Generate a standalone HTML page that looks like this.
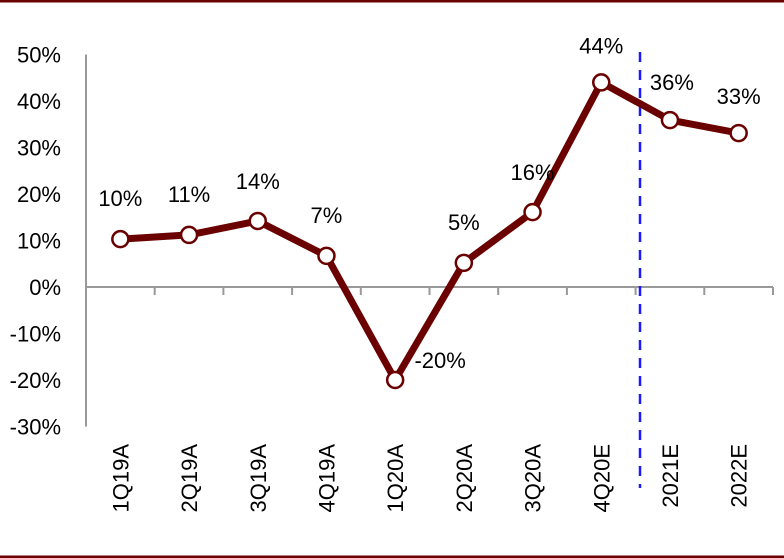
<!DOCTYPE html>
<html><head><meta charset="utf-8"><style>
html,body{margin:0;padding:0;background:#fff}
svg{display:block}
text{font-family:"Liberation Sans",sans-serif;font-size:22px;fill:#000}
</style></head><body>
<svg width="784" height="558">
<rect x="0" y="0" width="784" height="2.5" fill="#6b0000"/>
<rect x="0" y="555.5" width="784" height="2.5" fill="#6b0000"/>
<g id="axes"></g>
<g id="marks"></g>
</svg>
<script>
const categories=["1Q19A","2Q19A","3Q19A","4Q19A","1Q20A","2Q20A","3Q20A","4Q20E","2021E","2022E"];
const values=[10.3,11.2,14.2,6.7,-20,5.2,16.1,44,35.9,33.1];
const valueLabels=["10%","11%","14%","7%","-20%","5%","16%","44%","36%","33%"];
const yTicks=[50,40,30,20,10,0,-10,-20,-30];
const NS="http://www.w3.org/2000/svg";
const x0=86,x1=773,n=categories.length,step=(x1-x0)/n;
const xc=i=>x0+step*(i+0.5);
const y=v=>287-v*4.65;
const axes=document.getElementById('axes'),marks=document.getElementById('marks');
function mk(tag,attrs,parent,txt){const e=document.createElementNS(NS,tag);for(const k in attrs)e.setAttribute(k,attrs[k]);if(txt!==undefined)e.textContent=txt;parent.appendChild(e);return e;}
let e=mk('line',{x1:x0,x2:x0,y1:y(50),y2:y(-30),stroke:'#999','stroke-width':2},axes);


e=mk('line',{x1:x0,x2:x1,y1:y(0),y2:y(0),stroke:'#999','stroke-width':2},axes);


yTicks.forEach(t=>{
 const l=mk('text',{x:61,y:y(t)+8,'text-anchor':'end'},axes,t+'%');
 
 
});
for(let i=1;i<=n;i++){
 const tk=mk('line',{x1:x0+step*i,x2:x0+step*i,y1:y(0),y2:y(0)+8,stroke:'#999','stroke-width':2},axes);
 
 
}
categories.forEach((c,i)=>{
 const l=mk('text',{x:0,y:0,'text-anchor':'end',transform:`translate(${xc(i)+8},444) rotate(-90)`},axes,c);
 
 
});
const dl=mk('line',{x1:640,x2:640,y1:52,y2:488,stroke:'#1a1aff','stroke-width':2.5,'stroke-dasharray':'10,8'},axes);


const pl=mk('polyline',{points:values.map((v,i)=>xc(i)+','+y(v)).join(' '),fill:'none',stroke:'#6b0000','stroke-width':7,'stroke-linejoin':'round'},marks);


const lblOff=[[0,-33],[0,-33],[0,-32],[0,-33],[45,-12],[0,-33],[0,-32],[0,-29],[2,-30],[0,-29]];
values.forEach((v,i)=>{
 const c=mk('circle',{cx:xc(i),cy:y(v),r:8,fill:'#fff',stroke:'#6b0000','stroke-width':2.5},marks);
 
 
 const o=lblOff[i];
 const t=mk('text',{x:xc(i)+o[0],y:y(v)+o[1],'text-anchor':'middle'},marks,valueLabels[i]);
 
 
});
</script>
</body></html>
